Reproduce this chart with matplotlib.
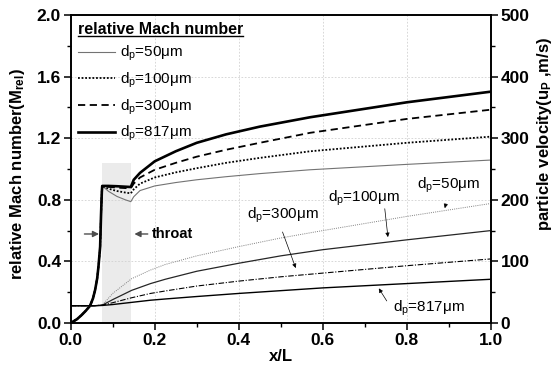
import matplotlib
matplotlib.use("Agg")
import matplotlib.pyplot as plt
from matplotlib.lines import Line2D
from matplotlib.ticker import MultipleLocator

plt.rcParams['font.family'] = ['Liberation Sans', 'DejaVu Sans']
plt.rcParams['mathtext.fontset'] = 'custom'
plt.rcParams['mathtext.rm'] = 'Liberation Sans'
plt.rcParams['mathtext.it'] = 'Liberation Sans'
plt.rcParams['mathtext.bf'] = 'Liberation Sans:bold'

# relative Mach number, common rise up to the throat entry
x_rise = [0, 0.015, 0.026, 0.036, 0.046, 0.053, 0.058, 0.063, 0.066, 0.070, 0.072, 0.074]
m_rise = [0, 0.025, 0.052, 0.08, 0.112, 0.16, 0.214, 0.29, 0.366, 0.495, 0.69, 0.85]

# relative Mach number from throat entry on
x_mach = [0.075, 0.09, 0.11, 0.13, 0.143, 0.15, 0.165, 0.2, 0.25, 0.3, 0.37, 0.45, 0.57, 0.8, 1.0]
mach_50 = [0.89, 0.855, 0.822, 0.80, 0.788, 0.82, 0.86, 0.89, 0.912, 0.93, 0.95, 0.97, 0.995, 1.03, 1.058]
mach_100 = [0.89, 0.872, 0.857, 0.847, 0.842, 0.868, 0.905, 0.945, 0.978, 1.005, 1.04, 1.072, 1.115, 1.17, 1.21]
mach_300 = [0.89, 0.884, 0.879, 0.876, 0.875, 0.905, 0.945, 0.995, 1.04, 1.08, 1.125, 1.17, 1.235, 1.325, 1.385]
mach_817 = [0.89, 0.89, 0.888, 0.885, 0.883, 0.93, 0.975, 1.05, 1.115, 1.17, 1.225, 1.275, 1.336, 1.433, 1.502]

# particle velocity (m/s)
x_vel = [0, 0.055, 0.075, 0.1, 0.145, 0.19, 0.225, 0.3, 0.4, 0.5, 0.6, 0.8, 1.0]
u_50 = [28, 28, 29, 48, 72, 86, 95, 109, 124, 138, 150, 173, 194]
u_100 = [28, 28, 29, 38, 53, 64, 71, 84, 97, 109, 119, 135, 150]
u_300 = [28, 28, 29, 33, 41, 48, 52, 60, 68, 75, 81, 93, 104]
u_817 = [28, 28, 28.5, 30, 33.5, 37, 39, 43, 48, 52.5, 57, 64, 71]

labels = [r'd$_\mathregular{p}$=50μm', r'd$_\mathregular{p}$=100μm',
          r'd$_\mathregular{p}$=300μm', r'd$_\mathregular{p}$=817μm']

fig = plt.figure(figsize=(5.57, 3.70), dpi=100)
ax = fig.add_axes([0.127, 0.127, 0.754, 0.8325])
ax2 = ax.twinx()

# throat region
ax.axvspan(0.075, 0.143, ymin=0, ymax=0.52, color='#ebebeb', lw=0, zorder=0)

styles = [dict(color='0.45', lw=0.8, ls='-'),
          dict(color='k', lw=1.3, ls=(0, (1, 1))),
          dict(color='k', lw=1.3, ls=(0, (4, 2.5))),
          dict(color='k', lw=1.9, ls='-')]
for m, st, lab in zip([mach_50, mach_100, mach_300, mach_817], styles, labels):
    ax.plot(x_rise + x_mach, m_rise + m, label=lab, **st)

vstyles = [dict(color='0.5', lw=0.7, ls=(0, (1, 1.2))),
           dict(color='0.15', lw=0.9, ls='-'),
           dict(color='k', lw=0.8, ls=(0, (5, 1.5, 1, 1.5))),
           dict(color='k', lw=1.0, ls='-')]
for u, st in zip([u_50, u_100, u_300, u_817], vstyles):
    ax2.plot(x_vel, u, **st)

ax.set_xlim(0, 1.0)
ax.set_ylim(0, 2.0)
ax2.set_ylim(0, 500)
ax.xaxis.set_minor_locator(MultipleLocator(0.1))
ax.yaxis.set_minor_locator(MultipleLocator(0.2))
ax2.yaxis.set_major_locator(MultipleLocator(100))
ax2.yaxis.set_minor_locator(MultipleLocator(50))
ax.set_xticks([0.0, 0.2, 0.4, 0.6, 0.8, 1.0])
ax.set_xticklabels(['0.0', '0.2', '0.4', '0.6', '0.8', '1.0'])
ax.set_yticks([0.0, 0.4, 0.8, 1.2, 1.6, 2.0])
ax.set_yticklabels(['0.0', '0.4', '0.8', '1.2', '1.6', '2.0'])
ax.grid(True, which='major', color='0.82', ls=(0, (2, 2)), lw=0.6)

for a in (ax, ax2):
    for s in a.spines.values():
        s.set_linewidth(1.2)
    a.tick_params(which='major', direction='out', length=5, width=1.1, labelsize=12.5, pad=2)
    a.tick_params(which='minor', direction='out', length=3, width=1.0)
ax.tick_params(top=False, right=False, which='both')
for t in ax.get_xticklabels() + ax.get_yticklabels() + ax2.get_yticklabels():
    t.set_fontweight('bold')

ax.set_xlabel('x/L', fontsize=12, fontweight='bold', labelpad=1)
ax.set_ylabel(r'relative Mach number(M$_\mathbf{rel}$)', fontsize=12, fontweight='bold')
ax2.set_ylabel(r'particle velocity(u$_\mathbf{P}$ ,m/s)', fontsize=12, fontweight='bold')
ax.yaxis.set_label_coords(-0.105, 0.485)
ax2.yaxis.set_label_coords(1.106, 0.615)

leg = ax.legend(loc='upper left', frameon=False, fontsize=11, title='relative Mach number',
                title_fontproperties={'weight': 'bold', 'size': 11.5},
                handlelength=2.45, handletextpad=0.35, labelspacing=0.48,
                borderaxespad=0.25, borderpad=0.2)
leg._legend_box.align = 'left'

# throat markers
arr = dict(arrowstyle='-|>', color='0.3', lw=1.0, mutation_scale=9)
ax.annotate('', xy=(0.074, 0.578), xytext=(0.026, 0.578), arrowprops=arr)
ax.annotate('', xy=(0.145, 0.578), xytext=(0.19, 0.578), arrowprops=arr)
ax.text(0.194, 0.578, 'throat', fontsize=10.5, fontweight='bold', va='center', ha='left')

# velocity labels
thin = dict(arrowstyle='-|>', color='k', lw=0.5, mutation_scale=6)
ax2.text(0.824, 224, labels[0], fontsize=11, va='center')
ax2.annotate('', xy=(0.889, 182), xytext=(0.895, 198), arrowprops=thin)
ax2.text(0.613, 203, labels[1], fontsize=11, va='center')
ax2.annotate('', xy=(0.756, 135), xytext=(0.747, 190), arrowprops=thin)
ax2.text(0.419, 174, labels[2], fontsize=11, va='center')
ax2.annotate('', xy=(0.538, 85), xytext=(0.502, 152), arrowprops=thin)
ax2.text(0.767, 24, labels[3], fontsize=11, va='center')
ax2.annotate('', xy=(0.73, 60), xytext=(0.756, 32), arrowprops=thin)

# underline the legend title
fig.canvas.draw()
bb = leg.get_title().get_window_extent().transformed(fig.transFigure.inverted())
fig.add_artist(Line2D([bb.x0, bb.x1], [bb.y0 + 0.002, bb.y0 + 0.002],
                      transform=fig.transFigure, color='k', lw=1.0))

fig.savefig('out.png', dpi=100)
